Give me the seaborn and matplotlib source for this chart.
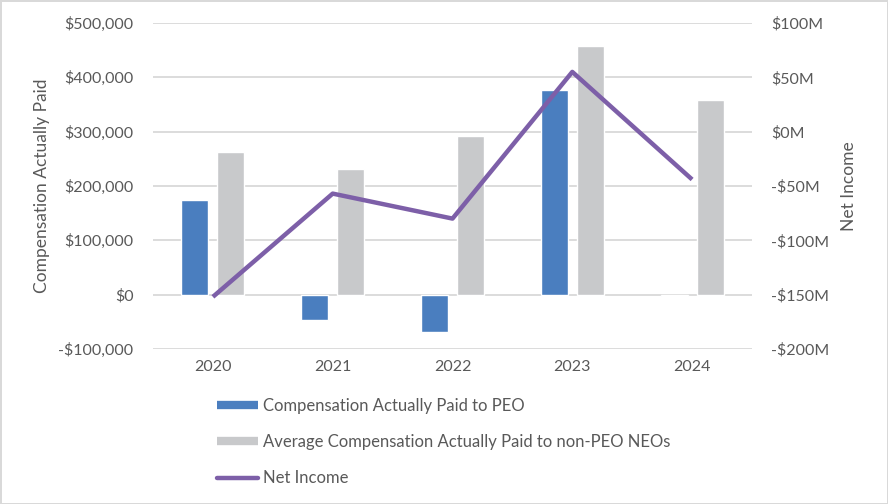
import matplotlib
matplotlib.use("Agg")
import matplotlib.pyplot as plt
import matplotlib.ticker as mticker
from matplotlib.lines import Line2D
import pandas as pd
import seaborn as sns

years = ["2020", "2021", "2022", "2023", "2024"]
peo_cap = [175000, -47000, -69000, 377000, -3000]
neo_cap = [263000, 232000, 292000, 458000, 358000]
net_income = [-152, -57, -80, 55, -44]  # $M

blue = "#4A7EBF"
grey = "#C8C9CB"
purple = "#7D5FA8"
txt = "#595959"

sns.set_theme(style="white")
plt.rcParams["font.family"] = ["Lato", "DejaVu Sans"]

df = pd.DataFrame({
    "Year": years * 2,
    "Value": peo_cap + neo_cap,
    "Series": ["Compensation Actually Paid to PEO"] * 5
              + ["Average Compensation Actually Paid to non-PEO NEOs"] * 5,
})

fig = plt.figure(figsize=(8.88, 5.04), dpi=100)
fig.patch.set_edgecolor("#D9D9D9")
fig.patch.set_linewidth(2)
ax = fig.add_axes([153 / 888, 1 - 349 / 504, 599 / 888, 326 / 504])

sns.barplot(data=df, x="Year", y="Value", hue="Series",
            palette=[blue, grey], width=0.6, gap=0.25,
            saturation=1, ax=ax, legend=False, zorder=2)
ax.set_ylim(-100000, 500000)
ax.set_xlim(-0.5, 4.5)
ax.yaxis.set_major_locator(mticker.MultipleLocator(100000))
ax.yaxis.set_major_formatter(mticker.FuncFormatter(
    lambda v, p: f"-${abs(v):,.0f}" if v < 0 else f"${v:,.0f}"))
ax.grid(axis="y", color="#D9D9D9", linewidth=1.3, zorder=0)
ax.set_axisbelow(True)
ax.set_xlabel("")
ax.set_ylabel("Compensation Actually Paid", fontsize=12.5, color=txt, labelpad=6)
ax.tick_params(axis="both", length=0, labelsize=11.5, labelcolor=txt, pad=14)
ax.tick_params(axis="x", pad=8)
for s in ax.spines.values():
    s.set_visible(False)

ax2 = ax.twinx()
sns.lineplot(x=list(range(len(years))), y=net_income, color=purple,
             linewidth=3.2, ax=ax2, solid_capstyle="butt")
ax2.set_ylim(-200, 100)
ax2.yaxis.set_major_locator(mticker.MultipleLocator(50))
ax2.yaxis.set_major_formatter(mticker.FuncFormatter(
    lambda v, p: f"-${abs(v):.0f}M" if v < 0 else f"${v:.0f}M"))
ax2.set_ylabel("Net Income", fontsize=12.5, color=txt, labelpad=8)
ax2.tick_params(axis="y", length=0, labelsize=11.5, labelcolor=txt, pad=14)
ax2.grid(False)
for s in ax2.spines.values():
    s.set_visible(False)

handles = [
    Line2D([], [], color=blue, linewidth=6, solid_capstyle="butt"),
    Line2D([], [], color=grey, linewidth=6, solid_capstyle="butt"),
    Line2D([], [], color=purple, linewidth=3.2),
]
labels = ["Compensation Actually Paid to PEO",
          "Average Compensation Actually Paid to non-PEO NEOs",
          "Net Income"]
leg = fig.legend(handles, labels, loc="upper left",
                 bbox_to_anchor=(210 / 888, 1 - 391 / 504), frameon=False,
                 fontsize=12, handlelength=2.5, handletextpad=0.3,
                 labelspacing=1.22, borderaxespad=0)
for t in leg.get_texts():
    t.set_color(txt)

fig.savefig("out.png", dpi=100)
